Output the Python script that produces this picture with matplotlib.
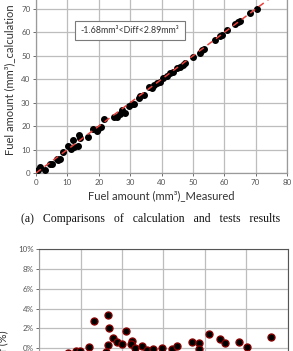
import matplotlib
matplotlib.use('Agg')
import matplotlib.pyplot as plt
from matplotlib.ticker import MultipleLocator, FuncFormatter

# DADOS - grafico (a): medido x calculado
measured = [0.7, 1.3, 2.9, 4.5, 5.0, 6.6, 7.1, 7.7, 8.5, 10.3, 11.2, 11.7, 12.1, 13.5, 13.7,
            14.0, 16.5, 18.1, 19.4, 19.9, 20.6, 21.7, 24.7, 25.7, 26.8, 27.3, 28.4, 29.5,
            30.5, 31.3, 32.7, 33.2, 34.3, 35.9, 36.9, 37.7, 38.5, 39.6, 40.6, 41.7, 42.8,
            43.8, 44.9, 46.0, 46.8, 47.6, 50.0, 52.3, 52.9, 53.6, 57.1, 58.7, 59.3, 60.9,
            63.5, 64.3, 64.9, 68.3, 70.4]
calculated = [1.1, 2.6, 1.1, 3.7, 3.7, 6.1, 5.4, 6.1, 9.0, 11.4, 10.4, 14.0, 11.1, 11.4, 16.4,
              15.1, 15.4, 19.0, 18.0, 19.0, 19.7, 22.9, 23.7, 23.7, 25.1, 26.9, 25.7, 28.6,
              29.4, 29.4, 31.9, 32.9, 33.3, 36.6, 36.1, 37.6, 38.3, 39.0, 40.4, 41.4, 42.6,
              43.3, 44.7, 45.4, 46.1, 46.9, 49.4, 51.4, 52.3, 53.1, 56.9, 58.3, 58.9, 61.1,
              63.7, 64.3, 64.7, 68.3, 70.0]
diff_text = '-1.68mm\u00b3<Diff<2.89mm\u00b3'

# DADOS - grafico (b): diferenca em %
diff_x = [7.0, 8.9, 9.8, 12.1, 13.2, 16.7, 16.9, 17.9, 16.5, 16.1, 18.7, 20.0, 20.9, 22.3,
          22.1, 23.1, 24.7, 25.9, 27.4, 29.7, 32.0, 33.3, 36.8, 38.6, 38.6, 41.1, 43.6,
          44.8, 48.3, 50.1, 55.9]
diff_y = [-0.44, -0.23, -0.23, 0.17, 2.75, 3.39, 2.0, 1.07, 0.34, -0.34, 0.6, 0.4, 1.78, 0.74,
          0.44, 0.0, 0.27, -0.17, -0.07, 0.0, -0.07, 0.27, 0.67, 0.5, -0.07, 1.41, 0.9,
          0.5, 0.67, 0.17, 1.11]

plt.rcParams['font.family'] = ['Lato', 'DejaVu Sans']

fig = plt.figure(figsize=(2.93, 3.51), dpi=100)
grid_color = '#bdbdbd'
tick_color = '#555555'

# GRAFICO (a)
ax1 = fig.add_axes([0.1229, 0.5071, 0.8567, 0.5339])
ax1.scatter(measured, calculated, s=16, color='black', zorder=3)
ax1.plot([0, 85], [0, 85], color='#e8413c', linestyle=(0, (4, 3)), linewidth=1.1, zorder=4)
ax1.set_xlim(0, 80)
ax1.set_ylim(0, 80)
ax1.xaxis.set_major_locator(MultipleLocator(10))
ax1.yaxis.set_major_locator(MultipleLocator(10))
ax1.grid(True, color=grid_color, linewidth=0.9)
ax1.set_axisbelow(True)
for s in ax1.spines.values():
    s.set_color('#9a9a9a')
    s.set_linewidth(0.9)
ax1.tick_params(labelsize=5.8, colors=tick_color, length=2, width=0.6, pad=2)
ax1.set_xlabel('Fuel amount (mm\u00b3)_Measured', fontsize=8, color='#333333', labelpad=3)
ax1.set_ylabel('Fuel amount (mm\u00b3)_calculation', fontsize=8, color='#333333', labelpad=4)
ax1.text(29.9, 60.8, diff_text, fontsize=6.4, color='#333333', ha='center', va='center',
         bbox=dict(boxstyle='square,pad=0.6', facecolor='white', edgecolor='#7a7a7a', linewidth=0.8),
         zorder=5)

# LEGENDA DA FIGURA
fig.text(0.515, 0.376, '(a)   Comparisons   of   calculation   and   tests   results',
         fontsize=8.5, family='Liberation Serif', ha='center', va='center', color='#111111')

# GRAFICO (b)
ax2 = fig.add_axes([0.1341, -0.276, 0.8478, 0.567])
ax2.scatter(diff_x, diff_y, s=26, color='black', edgecolors='#8b0000', linewidths=0.9, zorder=3)
ax2.set_xlim(0, 60)
ax2.set_ylim(-10, 10)
ax2.xaxis.set_major_locator(MultipleLocator(10))
ax2.yaxis.set_major_locator(MultipleLocator(2))
ax2.yaxis.set_major_formatter(FuncFormatter(lambda v, p: '%d%%' % round(v)))
ax2.grid(True, color=grid_color, linewidth=0.9)
ax2.set_axisbelow(True)
ax2.spines['left'].set_color('#9a9a9a')
ax2.spines['bottom'].set_color('#9a9a9a')
ax2.spines['top'].set_color('#555555')
ax2.spines['right'].set_color('#555555')
ax2.tick_params(labelsize=5.8, colors=tick_color, length=2, width=0.6, pad=2)
ax2.set_xticklabels([])
ax2.set_ylabel('Diff (%)', fontsize=8, color='#333333', labelpad=5)

plt.savefig('out.png', dpi=100)
